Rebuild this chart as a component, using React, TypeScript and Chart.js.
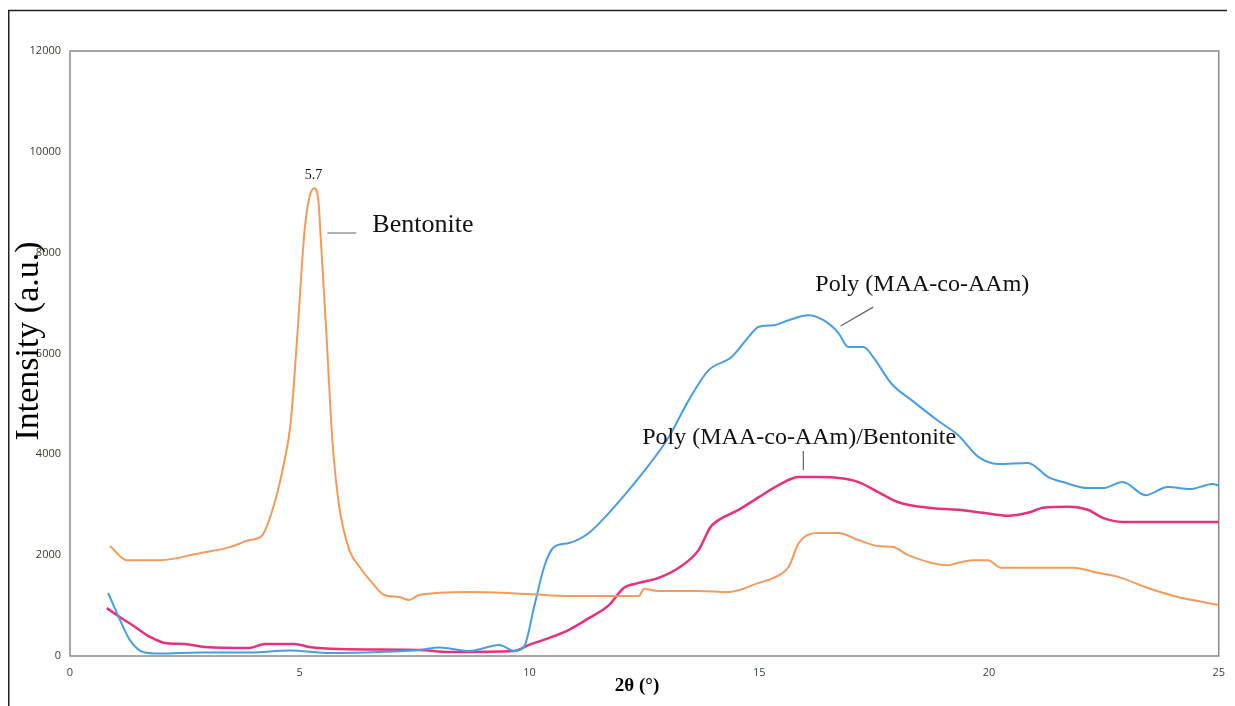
import React, { useEffect, useRef } from "react";
import { Chart, registerables } from "chart.js";

Chart.register(...registerables);

// ---- Data (2θ in degrees, intensity in a.u.) ----
const bentoniteX = [0.87, 1.24, 1.95, 2.82, 3.48, 3.91, 4.17, 4.45, 4.67, 4.8, 4.95, 5.1, 5.21, 5.32, 5.41, 5.45, 5.58, 5.71, 5.86, 6.08, 6.3, 6.58, 6.84, 7.17, 7.38, 7.6, 8.69, 9.99, 10.86, 12.38, 12.49, 12.81, 13.68, 14.34, 14.99, 15.31, 15.64, 15.86, 16.29, 16.72, 17.16, 17.59, 17.92, 18.24, 19.11, 19.33, 19.66, 19.98, 20.26, 21.29, 21.83, 22.37, 22.81, 23.46, 24.11, 24.54, 25.0];
const bentoniteY = [2180, 1900, 1900, 2040, 2160, 2300, 2380, 3030, 3890, 4600, 6400, 8390, 9100, 9280, 9000, 8390, 6400, 4280, 2960, 2100, 1770, 1450, 1210, 1170, 1110, 1210, 1270, 1230, 1190, 1190, 1330, 1290, 1290, 1270, 1450, 1550, 1770, 2240, 2440, 2440, 2300, 2180, 2160, 2000, 1800, 1850, 1900, 1900, 1750, 1750, 1750, 1650, 1570, 1350, 1170, 1090, 1010];

const polyX = [0.83, 1.09, 1.3, 1.59, 1.95, 2.82, 3.91, 4.78, 5.65, 6.73, 7.6, 8.04, 8.69, 9.34, 9.67, 9.88, 10.1, 10.32, 10.53, 10.86, 11.29, 11.73, 12.16, 12.6, 13.03, 13.47, 13.9, 14.4, 14.77, 14.99, 15.31, 15.64, 16.07, 16.4, 16.72, 16.94, 17.27, 17.48, 17.88, 18.35, 18.9, 19.33, 19.77, 20.2, 20.85, 21.29, 21.61, 22.15, 22.48, 22.91, 23.41, 23.89, 24.37, 24.87, 25.0];
const polyY = [1250, 710, 320, 80, 50, 70, 70, 110, 60, 80, 120, 170, 100, 220, 100, 180, 970, 1770, 2160, 2240, 2440, 2840, 3290, 3790, 4340, 5080, 5670, 5930, 6330, 6530, 6560, 6660, 6760, 6660, 6410, 6130, 6130, 5930, 5400, 5050, 4660, 4380, 3950, 3810, 3830, 3550, 3450, 3330, 3330, 3450, 3190, 3350, 3310, 3410, 3380];

const compositeX = [0.8, 1.09, 1.41, 1.74, 2.06, 2.5, 2.93, 3.91, 4.24, 4.89, 5.21, 5.86, 7.6, 8.25, 9.67, 9.99, 10.43, 10.86, 11.29, 11.73, 12.05, 12.38, 12.81, 13.25, 13.68, 13.94, 14.12, 14.55, 14.99, 15.42, 15.86, 16.29, 16.72, 17.16, 17.59, 18.03, 18.68, 19.33, 19.87, 20.42, 20.85, 21.18, 21.72, 22.15, 22.48, 22.91, 25.0];
const compositeY = [950, 770, 580, 380, 260, 240, 180, 160, 240, 240, 180, 140, 120, 80, 100, 220, 360, 520, 750, 1010, 1350, 1450, 1550, 1750, 2100, 2560, 2700, 2900, 3150, 3390, 3550, 3550, 3530, 3450, 3250, 3050, 2940, 2900, 2840, 2780, 2840, 2940, 2960, 2900, 2740, 2660, 2660];

const xTicks = [0, 5, 10, 15, 20, 25];
const yTicks = [0, 2000, 4000, 6000, 8000, 10000, 12000];

const annotationTexts = ["5.7", "Bentonite", "Poly (MAA-co-AAm)", "Poly (MAA-co-AAm)/Bentonite"];
const annotationX = [5.3, 6.58, 18.55, 15.87];
const annotationY = [9540, 8550, 7360, 4320];

const xTitle = "2θ (°)";
const yTitle = "Intensity (a.u.)";

const toPoints = (xs: number[], ys: number[]) => xs.map((x, i) => ({ x, y: ys[i] }));

export default function App() {
  const ref = useRef<HTMLCanvasElement | null>(null);

  useEffect(() => {
    if (!ref.current) return;
    const serif = "'Liberation Serif', 'Times New Roman', serif";

    const decor = {
      id: "decor",
      beforeDatasetsDraw(chart: any) {
        const { ctx, chartArea: a } = chart;
        ctx.save();
        ctx.strokeStyle = "#8a8a8a";
        ctx.lineWidth = 1.5;
        ctx.strokeRect(a.left, a.top, a.right - a.left, a.bottom - a.top);
        ctx.restore();
      },
      afterDraw(chart: any) {
        const { ctx } = chart;
        const xs = chart.scales.x;
        const ys = chart.scales.y;
        const px = (v: number) => xs.getPixelForValue(v);
        const py = (v: number) => ys.getPixelForValue(v);
        ctx.save();
        // outer frame
        ctx.strokeStyle = "#222";
        ctx.lineWidth = 1.5;
        ctx.beginPath();
        ctx.moveTo(0.75, chart.height);
        ctx.lineTo(0.75, 2.5);
        ctx.lineTo(chart.width, 2.5);
        ctx.stroke();

        // annotations
        ctx.fillStyle = "#111";
        ctx.textBaseline = "middle";
        ctx.font = `14px ${serif}`;
        ctx.textAlign = "center";
        ctx.fillText(annotationTexts[0], px(annotationX[0]), py(annotationY[0]));
        ctx.font = `26px ${serif}`;
        ctx.textAlign = "left";
        ctx.fillText(annotationTexts[1], px(annotationX[1]), py(annotationY[1]));
        ctx.font = `24px ${serif}`;
        ctx.textAlign = "center";
        ctx.fillText(annotationTexts[2], px(annotationX[2]), py(annotationY[2]));
        ctx.fillText(annotationTexts[3], px(annotationX[3]), py(annotationY[3]));

        // leader lines
        ctx.strokeStyle = "#666";
        ctx.lineWidth = 1.2;
        ctx.beginPath();
        ctx.moveTo(px(5.6), py(8390));
        ctx.lineTo(px(6.23), py(8390));
        ctx.moveTo(px(16.77), py(6545));
        ctx.lineTo(px(17.48), py(6920));
        ctx.moveTo(px(15.96), py(4065));
        ctx.lineTo(px(15.96), py(3690));
        ctx.stroke();

        // axis titles
        ctx.fillStyle = "#000";
        ctx.font = `bold 19px ${serif}`;
        ctx.textAlign = "center";
        ctx.fillText(xTitle, 629, 678);
        ctx.save();
        ctx.translate(21, 333);
        ctx.rotate(-Math.PI / 2);
        ctx.font = `34px ${serif}`;
        ctx.fillText(yTitle, 0, 0);
        ctx.restore();
        ctx.restore();
      },
    };

    const chart = new Chart(ref.current, {
      type: "line",
      data: {
        datasets: [
          {
            label: "Bentonite",
            data: toPoints(bentoniteX, bentoniteY),
            borderColor: "#f39a5c",
            borderWidth: 2,
            pointRadius: 0,
            cubicInterpolationMode: "monotone",
            fill: false,
          },
          {
            label: "Poly (MAA-co-AAm)",
            data: toPoints(polyX, polyY),
            borderColor: "#4a9de0",
            borderWidth: 2,
            pointRadius: 0,
            cubicInterpolationMode: "monotone",
            fill: false,
          },
          {
            label: "Poly (MAA-co-AAm)/Bentonite",
            data: toPoints(compositeX, compositeY),
            borderColor: "#e8307c",
            borderWidth: 2.5,
            pointRadius: 0,
            cubicInterpolationMode: "monotone",
            fill: false,
          },
        ],
      },
      options: {
        responsive: false,
        animation: false,
        layout: { padding: { left: 0, top: 43, right: 10, bottom: 0 } },
        plugins: { legend: { display: false }, tooltip: { enabled: false } },
        scales: {
          x: {
            type: "linear",
            min: 0,
            max: 25,
            afterBuildTicks: (s: any) => {
              s.ticks = xTicks.map((v) => ({ value: v }));
            },
            afterFit: (s: any) => {
              s.height = 50;
            },
            grid: { display: false, drawTicks: false, tickLength: 0 },
            border: { display: false },
            ticks: {
              padding: 10,
              color: "#2f4a2f",
              font: { family: "'Open Sans', sans-serif", size: 11 },
              maxRotation: 0,
              callback: (v: any) => String(v),
            },
          },
          y: {
            type: "linear",
            min: 0,
            max: 12000,
            afterBuildTicks: (s: any) => {
              s.ticks = yTicks.map((v) => ({ value: v }));
            },
            afterFit: (s: any) => {
              s.width = 62;
            },
            grid: { display: false, drawTicks: false, tickLength: 0 },
            border: { display: false },
            ticks: {
              padding: 9,
              color: "#3a3a2a",
              font: { family: "'Open Sans', sans-serif", size: 11 },
              callback: (v: any) => String(v),
            },
          },
        },
      },
      plugins: [decor],
    } as any);

    return () => chart.destroy();
  }, []);

  return (
    <div style={{ position: "relative", width: 1227, height: 698 }}>
      <canvas ref={ref} width={1227} height={698} style={{ display: "block" }} />
    </div>
  );
}
